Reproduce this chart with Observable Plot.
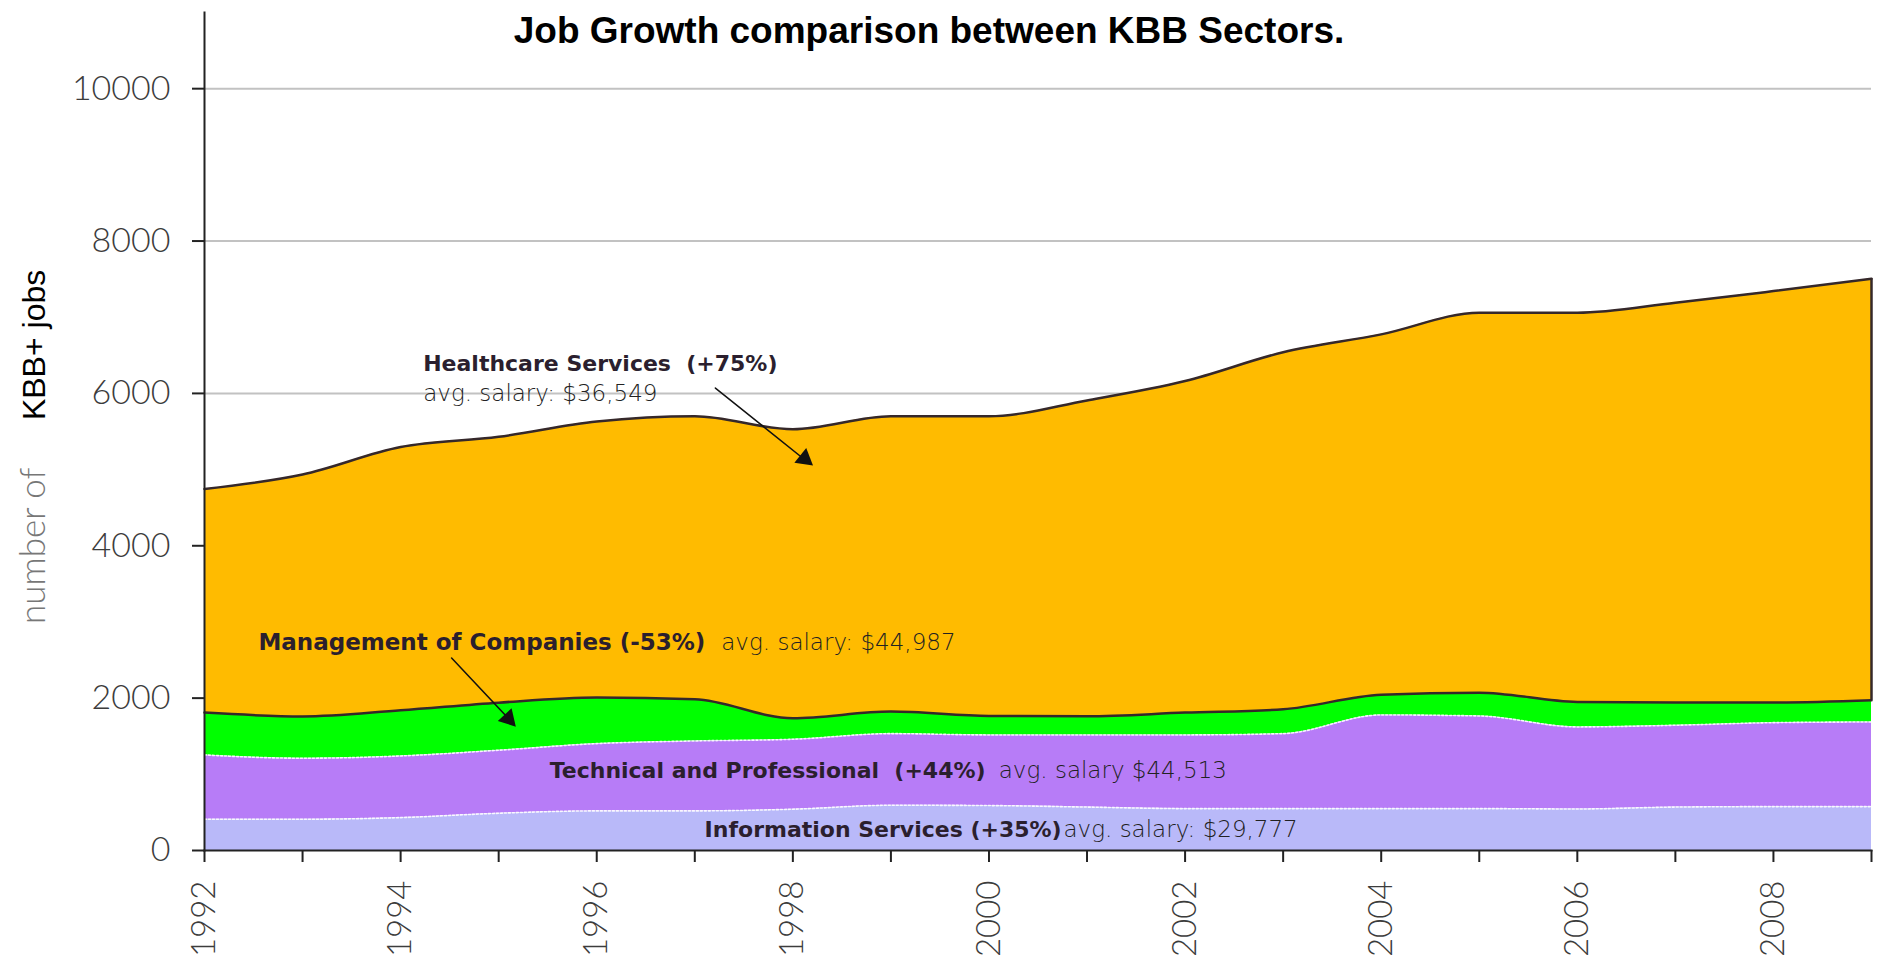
<!DOCTYPE html>
<html>
<head>
<meta charset="utf-8">
<script src="https://cdn.jsdelivr.net/npm/d3@7"></script>
<script src="https://cdn.jsdelivr.net/npm/@observablehq/plot@0.6"></script>
<style>
  body { margin: 0; background: #fff; }
  #wrap { position: relative; width: 1879px; height: 960px; }
  #title { position: absolute; left: 0; width: 1858px; top: 12px; text-align: center;
           font-family: "Liberation Sans", Arial, sans-serif; font-weight: bold; font-size: 37px;
           line-height: 37px; color: #000; }
  #chart { position: absolute; left: 0; top: 0; }
</style>
</head>
<body>
<div id="wrap">
  <div id="chart"></div>
  <div id="title">Job Growth comparison between KBB Sectors.</div>
</div>
<script>
// ---- data ----
const years = [1992, 1993, 1994, 1995, 1996, 1997, 1998, 1999, 2000, 2001, 2002, 2003, 2004, 2005, 2006, 2007, 2008, 2009];
const sectors = ["Information Services", "Technical and Professional", "Management of Companies", "Healthcare Services"];
const info   = [410, 410, 432, 489, 520, 520, 542, 594, 590, 570, 550, 550, 550, 550, 545, 570, 576, 576];
const tech   = [844, 801, 809, 827, 883, 918, 918, 940, 927, 947, 967, 984, 1229, 1216, 1077, 1074, 1102, 1111];
const mgmt   = [556, 549, 600, 625, 604, 547, 276, 289, 249, 245, 293, 320, 266, 306, 328, 298, 264, 285];
const health = [2935, 3175, 3455, 3489, 3623, 3715, 3794, 3877, 3934, 4146, 4352, 4686, 4730, 4986, 5108, 5248, 5401, 5533];
const sectorColors = ["#b9b9f9", "#b77cf7", "#00ff00", "#ffbb00"];
const yTicks = [0, 2000, 4000, 6000, 8000, 10000];
const gridValues = [2000, 4000, 6000, 8000, 10000];
const xTickLabels = [1992, 1994, 1996, 1998, 2000, 2002, 2004, 2006, 2008];

// annotations
const labelTexts  = ["Healthcare Services  (+75%)", "Management of Companies (-53%)", "Technical and Professional  (+44%)", "Information Services (+35%)"];
const labelYears  = [1994.23, 1992.55, 1995.52, 1997.10];
const labelValues = [6385, 2724, 1044, 270];
const labelSizes  = [22, 23, 22, 22];
const salaryTexts  = ["avg. salary: $36,549", "avg. salary: $44,987", "avg. salary $44,513", "avg. salary: $29,777"];
const salaryYears  = [1994.23, 1997.27, 2000.10, 2000.76];
const salaryValues = [5991, 2724, 1044, 270];
const arrowFromYears  = [1997.21, 1994.52];
const arrowFromValues = [6070, 2527];
const arrowToYears    = [1998.16, 1995.14];
const arrowToValues   = [5090, 1678];
const arrowHeadAngles = [129, 137];

// ---- build stacked table ----
const seriesValues = [info, tech, mgmt, health];
const table = [];
years.forEach((yr, i) => {
  let base = 0;
  sectors.forEach((s, k) => {
    const v = seriesValues[k][i];
    table.push({year: yr, sector: s, y1: base, y2: base + v});
    base += v;
  });
});
const labels = labelTexts.map((t, i) => ({t, x: labelYears[i], y: labelValues[i], s: labelSizes[i]}));
const salaries = salaryTexts.map((t, i) => ({t, x: salaryYears[i], y: salaryValues[i]}));
const arrows = arrowFromYears.map((x1, i) => ({x1, y1: arrowFromValues[i], x2: arrowToYears[i], y2: arrowToValues[i], a: arrowHeadAngles[i]}));
const curve = "monotone-x";
const dark = "#35282a";

const plot = Plot.plot({
  width: 1879,
  height: 960,
  marginLeft: 204,
  marginRight: 8,
  marginTop: 12,
  marginBottom: 110,
  style: {background: "transparent", fontFamily: "Lato, sans-serif"},
  x: {domain: [1992, 2009]},
  y: {domain: [0, 11000]},
  color: {domain: sectors, range: sectorColors},
  marks: [
    Plot.ruleY(gridValues, {stroke: "#c2c2c2", strokeWidth: 2}),
    Plot.areaY(table, {x: "year", y1: "y1", y2: "y2", fill: "sector", z: "sector", curve}),
    Plot.line(table.filter(d => d.sector === sectors[0] || d.sector === sectors[1]),
      {x: "year", y: "y2", z: "sector", stroke: "#ffffff", strokeWidth: 1.6, strokeDasharray: "2 2", strokeOpacity: 0.9, curve}),
    Plot.line(table.filter(d => d.sector === sectors[2] || d.sector === sectors[3]),
      {x: "year", y: "y2", z: "sector", stroke: dark, strokeWidth: 2.5, curve}),
    Plot.ruleX(table.filter(d => d.sector === sectors[3] && d.year === years[years.length - 1]),
      {x: "year", y1: "y1", y2: "y2", stroke: dark, strokeWidth: 2.5}),
    Plot.axisY({ticks: yTicks, tickFormat: d => String(d), tickSize: 12, tickPadding: 22, stroke: "#222", strokeWidth: 2,
      fill: "#3c3c3c", fontSize: 34, fontWeight: 300, fontFamily: "Lato, sans-serif", label: null}),
    Plot.axisX({ticks: years, tickFormat: d => xTickLabels.includes(d) ? String(d) : "",
      tickRotate: -90, tickSize: 12, tickPadding: 18, stroke: "#222", strokeWidth: 2,
      fill: "#3c3c3c", fontSize: 33, fontWeight: 300, fontFamily: "Lato, sans-serif", label: null}),
    Plot.frame({anchor: "left", stroke: "#222", strokeWidth: 2}),
    Plot.frame({anchor: "bottom", stroke: "#222", strokeWidth: 2}),
    // y axis title in two styles
    Plot.text(["number of"], {frameAnchor: "left", dx: -160, y: [2973], rotate: -90, textAnchor: "start",
      lineAnchor: "bottom", fontSize: 35, fontWeight: 300, fill: "#777", fontFamily: "Lato, sans-serif"}),
    Plot.text(["KBB+ jobs"], {frameAnchor: "left", dx: -160, y: [5650], rotate: -90, textAnchor: "start",
      lineAnchor: "bottom", fontSize: 32, fill: "#000", fontFamily: "Liberation Sans, Arial, sans-serif"}),
    // annotations
    Plot.arrow(arrows, {x1: "x1", y1: "y1", x2: "x2", y2: "y2", stroke: "#111", strokeWidth: 1.5, headLength: 0}),
    Plot.dot(arrows, {x: "x2", y: "y2", symbol: "triangle", rotate: "a", r: 7, fill: "#111", dx: -4, dy: -4}),
    Plot.text(labels, {x: "x", y: "y", text: "t", textAnchor: "start", fontSize: "s", fontWeight: "bold",
      fill: "#2b1f2e", fontFamily: "DejaVu Sans, sans-serif"}),
    Plot.text(salaries, {x: "x", y: "y", text: "t", textAnchor: "start", fontSize: 23, fontWeight: 200,
      fill: "#222", fontFamily: "DejaVu Sans, sans-serif"})
  ]
});
document.getElementById("chart").appendChild(plot);
</script>
</body>
</html>
